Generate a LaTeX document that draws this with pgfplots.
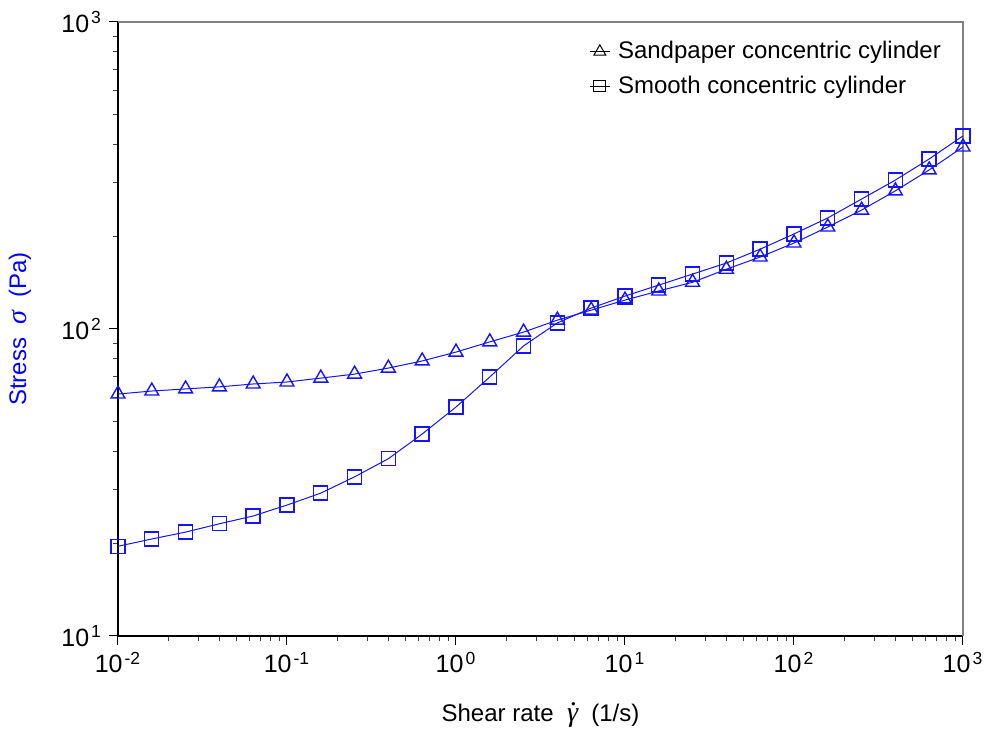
\documentclass[border=0pt]{standalone}
\usepackage{pgfplots}
\usepackage{pgfplotstable}
\pgfplotsset{compat=1.18}
\usepackage{fontspec}
\setmainfont{Liberation Sans}
\newfontfamily\grk{Liberation Serif}

\definecolor{curveblue}{RGB}{20,20,255}

% italic Greek symbols for the axis titles
\newcommand{\gsym}[1]{{\grk\itshape\fontsize{14}{14}\selectfont #1}}
\newcommand{\gdot}{{\grk\itshape\fontsize{14}{14}\selectfont
  \ooalign{γ\cr\hidewidth\kern0.12em\raisebox{0.56em}{.}\hidewidth\cr}}}

% shear stress vs shear rate, sandpaper-lined geometry
\pgfplotstableread{
rate     stress
0.01     61.4
0.01585  62.8
0.02512  63.8
0.03981  64.8
0.06310  66.2
0.1      67.2
0.1585   69.2
0.2512   71.3
0.3981   74.6
0.6310   78.7
1        84.1
1.585    90.8
2.512    97.7
3.981    106.9
6.310    115.2
10       124.2
15.85    133
25.12    142
39.81    156.6
63.10    171.6
100      190.6
158.5    214.9
251.2    244
398.1    281.8
631.0    329.7
1000     391.7
}\sandpaper

% shear stress vs shear rate, smooth geometry
\pgfplotstableread{
rate     stress
0.01     19.6
0.01585  20.7
0.02512  21.8
0.03981  23.2
0.06310  24.6
0.1      26.7
0.1585   29.2
0.2512   33.0
0.3981   37.8
0.6310   45.5
1        55.7
1.585    69.8
2.512    88.1
3.981    104.7
6.310    117
10       128
15.85    139
25.12    151
39.81    164
63.10    182
100      204
158.5    230
251.2    265
398.1    305.6
631.0    358
1000     425.6
}\smooth

\begin{document}
\begin{tikzpicture}
\path[use as bounding box] (-59pt,-48pt) rectangle (436pt,318pt);
\begin{axis}[
  scale only axis,
  width=422.5pt, height=307pt,
  xmode=log, ymode=log,
  log basis x=10, log basis y=10,
  xmin=0.01, xmax=1000, ymin=10, ymax=1000,
  clip=false,
  axis x line*=bottom, axis y line*=left,
  axis line style={-, black, line width=0.6pt},
  tick align=outside,
  major tick length=4.5pt, minor tick length=2.3pt,
  major tick style={black, line width=0.5pt},
  minor tick style={black!75, line width=0.5pt},
  xticklabel={\pgfmathtruncatemacro{\e}{round(\tick)}10\kern1pt\textsuperscript{\e}},
  yticklabel={\pgfmathtruncatemacro{\e}{round(\tick)}10\kern1pt\textsuperscript{\e}},
  ticklabel style={font=\fontsize{12.5}{14}\selectfont},
  xlabel={Shear rate \ \gdot\ \ (1/s)},
  ylabel={Stress \ \gsym{σ} \ (Pa)},
  xlabel style={at={(axis description cs:0.5,-0.1287)}, anchor=center, font=\fontsize{12}{14}\selectfont},
  ylabel style={at={(axis description cs:-0.116,0.5)}, anchor=center, font=\fontsize{12}{14}\selectfont, text=blue},
  legend cell align=left,
  legend style={draw=none, fill=none, at={(axis description cs:0.553,0.982)}, anchor=north west,
    font=\fontsize{12}{14}\selectfont, row sep=3pt, inner sep=2pt,
    nodes={inner xsep=4pt}},
  legend image code/.code={
    \draw[black, line width=0.5pt] (0cm,0cm) -- (0.34cm,0cm);
    \draw[#1, black, mark options={scale=0.85}] plot coordinates {(0.17cm,0cm)};
  },
]
\draw[gray, line width=0.6pt] (rel axis cs:0,1) -- (rel axis cs:1,1) -- (rel axis cs:1,0);

\addplot[curveblue, line width=0.5pt, mark=triangle, mark size=4pt,
  mark options={solid, line width=0.7pt}] table[x=rate, y=stress] {\sandpaper};
\addlegendentry{Sandpaper concentric cylinder}

\addplot[curveblue, line width=0.5pt, mark=square, mark size=3.5pt,
  mark options={solid, line width=0.7pt}] table[x=rate, y=stress] {\smooth};
\addlegendentry{Smooth concentric cylinder}
\end{axis}
\end{tikzpicture}
\end{document}
